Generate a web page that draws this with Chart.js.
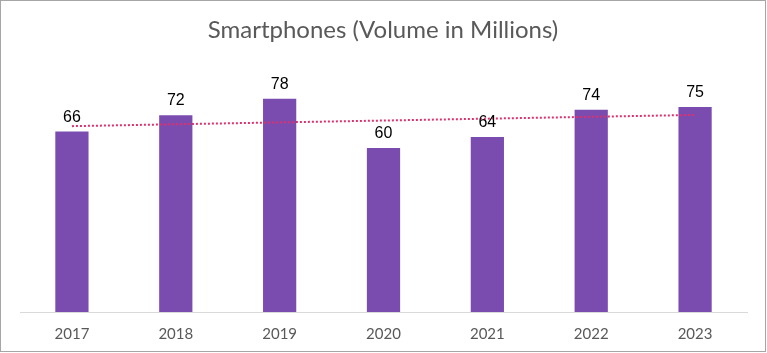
<!DOCTYPE html>
<html>
<head>
<meta charset="utf-8">
<script src="https://cdn.jsdelivr.net/npm/chart.js@4/dist/chart.umd.min.js"></script>
<style>
  html, body { margin: 0; padding: 0; background: #ffffff; }
  #wrap { width: 767px; height: 353px; position: relative; }
</style>
</head>
<body>
<div id="wrap"><canvas id="c" width="767" height="353"></canvas></div>
<script>
const titleText = "Smartphones (Volume in Millions)";
const categories = ["2017", "2018", "2019", "2020", "2021", "2022", "2023"];
const volumes = [66, 72, 78, 60, 64, 74, 75];
// trendline: start and end only
const trendValues = [68.0, null, null, null, null, null, 72.1];

const overlay = {
  id: 'overlay',
  afterDraw(chart) {
    const ctx = chart.ctx;
    ctx.save();
    // border
    ctx.strokeStyle = '#a6a6a6';
    ctx.lineWidth = 1;
    ctx.strokeRect(0.5, 0.5, 765, 351);
    // title
    ctx.fillStyle = '#595959';
    ctx.font = '24px Lato';
    ctx.textAlign = 'center';
    ctx.textBaseline = 'middle';
    ctx.fillText(titleText, 383, 30);
    // data labels
    const meta = chart.getDatasetMeta(1);
    ctx.fillStyle = '#000000';
    ctx.font = '16px "Liberation Sans", Arial, sans-serif';
    ctx.textBaseline = 'alphabetic';
    meta.data.forEach((bar, i) => {
      ctx.fillText(String(volumes[i]), bar.x, bar.y - 10);
    });
    ctx.restore();
  }
};

new Chart(document.getElementById('c'), {
  data: {
    labels: categories,
    datasets: [
      {
        type: 'line',
        data: trendValues,
        spanGaps: true,
        borderColor: '#E0306B',
        borderWidth: 2,
        borderDash: [2, 2],
        pointRadius: 0,
        fill: false,
        order: 0
      },
      {
        type: 'bar',
        data: volumes,
        backgroundColor: '#7A4CB0',
        borderWidth: 0,
        barPercentage: 0.32,
        categoryPercentage: 1.0,
        order: 1
      }
    ]
  },
  options: {
    responsive: false,
    animation: false,
    devicePixelRatio: 1,
    layout: { padding: { top: 66, left: 20, right: 20, bottom: -3 } },
    plugins: {
      legend: { display: false },
      title: { display: false },
      tooltip: { enabled: false }
    },
    scales: {
      x: {
        grid: { display: false, drawTicks: false },
        border: { display: true, color: '#d9d9d9', width: 1 },
        ticks: {
          color: '#595959',
          font: { family: 'Lato', size: 15 },
          padding: 13,
          maxRotation: 0
        }
      },
      y: {
        display: false,
        min: 0,
        max: 90
      }
    }
  },
  plugins: [overlay]
});
</script>
</body>
</html>
